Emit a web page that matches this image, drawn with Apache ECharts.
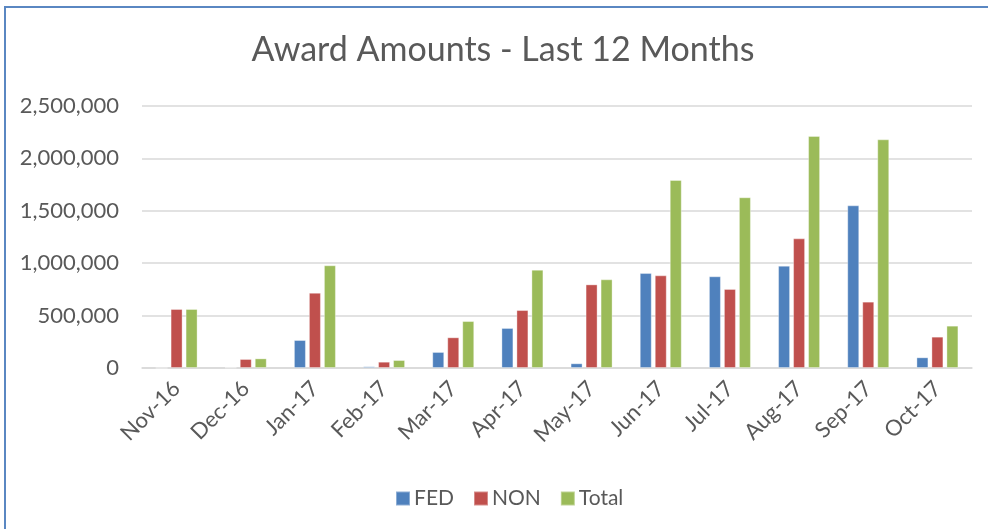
<!DOCTYPE html>
<html>
<head>
<meta charset="utf-8">
<script src="https://cdn.jsdelivr.net/npm/echarts@6/dist/echarts.min.js"></script>
<style>
  html, body { margin: 0; padding: 0; background: #fff; }
  #main { width: 988px; height: 529px; position: relative; }
  .frame { position: absolute; left: 4px; top: 6px; width: 1000px; height: 540px;
           border-left: 2px solid #5a87c2; border-top: 2px solid #5a87c2; pointer-events: none; }
</style>
</head>
<body>
<div id="main"></div>
<div class="frame"></div>
<script>
var months = ['Nov-16', 'Dec-16', 'Jan-17', 'Feb-17', 'Mar-17', 'Apr-17',
              'May-17', 'Jun-17', 'Jul-17', 'Aug-17', 'Sep-17', 'Oct-17'];
var fed   = [0, 5000, 267000, 16000, 153000, 382000, 45000, 906000, 875000, 976000, 1552000, 102000];
var non   = [563000, 86000, 718000, 60000, 293000, 553000, 798000, 884000, 754000, 1237000, 633000, 299000];
var total = [563000, 92000, 980000, 76000, 448000, 938000, 846000, 1794000, 1629000, 2214000, 2182000, 404000];

var font = 'Lato, "Open Sans", sans-serif';
var txt = '#595959';

function makeSeries(name, data, color) {
    return {
        name: name,
        type: 'bar',
        data: data,
        barWidth: 12,
        barGap: '25%',
        itemStyle: { color: color, borderColor: 'rgba(255,255,255,0.35)', borderWidth: 1 }
    };
}

var myChart = echarts.init(document.getElementById('main'));
var option = {
    animation: false,
    title: {
        text: 'Award Amounts - Last 12 Months',
        left: 498,
        top: 28,
        textAlign: 'center',
        textStyle: { fontFamily: font, fontSize: 34, fontWeight: 'normal', color: txt }
    },
    legend: {
        data: ['FED', 'NON', 'Total'],
        bottom: 20,
        left: 395,
        padding: 0,
        itemWidth: 14,
        itemHeight: 14,
        itemGap: 19,
        icon: 'rect',
        textStyle: { fontFamily: font, fontSize: 21, color: txt, padding: [0, 0, 0, -1] }
    },
    grid: { left: 142, right: 16, top: 106, bottom: 161 },
    xAxis: {
        type: 'category',
        data: months,
        axisLine: { lineStyle: { color: '#d9d9d9', width: 1.5 } },
        axisTick: { show: false },
        axisLabel: { rotate: 45, margin: 17, fontFamily: font, fontSize: 22, color: txt, interval: 0 }
    },
    yAxis: {
        type: 'value',
        min: 0,
        max: 2500000,
        interval: 500000,
        axisLine: { show: false },
        axisTick: { show: false },
        splitLine: { lineStyle: { color: '#d9d9d9', width: 1.5 } },
        axisLabel: {
            margin: 23,
            fontFamily: font, fontSize: 22, color: txt,
            formatter: function (v) { return v.toLocaleString('en-US'); }
        }
    },
    series: [
        makeSeries('FED', fed, '#4f81bd'),
        makeSeries('NON', non, '#c0504d'),
        makeSeries('Total', total, '#9bbb59')
    ]
};
myChart.setOption(option);
</script>
</body>
</html>
